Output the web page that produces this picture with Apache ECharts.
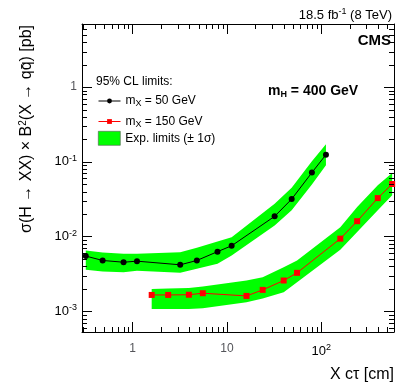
<!DOCTYPE html>
<html>
<head>
<meta charset="utf-8">
<script src="https://cdn.jsdelivr.net/npm/echarts@6/dist/echarts.min.js"></script>
<style>
  html, body { margin: 0; padding: 0; background: #fff; }
  #chart { width: 407px; height: 391px; }
</style>
</head>
<body>
<div id="chart"></div>
<script>
// axis ranges (log10 scales)
const xRange = [0.29, 590];
const yRange = [5.3e-4, 7];
// minor tick mantissas, as in ROOT log axes
const minorMant = [2, 3, 4, 5, 6, 7, 8, 9];

// m_X = 50 GeV : observed limit and expected +-1 sigma band
const blackX = [0.318, 0.48, 0.80, 1.11, 3.19, 4.79, 7.93, 11.2, 32.0, 48.5, 79.5, 112];
const blackY = [5.5e-3, 4.8e-3, 4.55e-3, 4.7e-3, 4.2e-3, 4.8e-3, 6.3e-3, 7.55e-3, 0.0187, 0.0318, 0.072, 0.125];
const blackUp = [6.53e-3, 6.14e-3, 5.9e-3, 5.9e-3, 6.2e-3, 7.1e-3, 8.62e-3, 9.85e-3, 0.0276, 0.045, 0.102, 0.172];
const blackLo = [3.6e-3, 3.42e-3, 3.34e-3, 3.49e-3, 3.28e-3, 3.71e-3, 4.33e-3, 5.6e-3, 0.0141, 0.0225, 0.05, 0.09];

// m_X = 150 GeV
const redX = [1.59, 2.38, 3.94, 5.54, 16.1, 23.9, 39.9, 55.3, 159, 240, 397, 564];
const redY = [1.66e-3, 1.66e-3, 1.67e-3, 1.75e-3, 1.61e-3, 1.94e-3, 2.59e-3, 3.28e-3, 9.4e-3, 0.0161, 0.0328, 0.0506];
const redUp = [2.0e-3, 2.02e-3, 2.05e-3, 2.15e-3, 2.59e-3, 2.86e-3, 3.9e-3, 4.8e-3, 0.0134, 0.0249, 0.0486, 0.071];
const redLo = [1.08e-3, 1.08e-3, 1.08e-3, 1.1e-3, 1.33e-3, 1.49e-3, 1.8e-3, 2.45e-3, 6.67e-3, 0.0115, 0.0225, 0.0357];

(function () {
  const font = '"Liberation Sans", Arial, Helvetica, sans-serif';
  let myChart = echarts.init(document.getElementById('chart'));

  // minor tick values inside a range
  function minorTicks(range) {
    let out = [];
    for (let d = Math.floor(Math.log10(range[0])); d <= Math.ceil(Math.log10(range[1])); d++) {
      minorMant.forEach(function (m) {
        let v = m * Math.pow(10, d);
        if (v > range[0] && v < range[1]) out.push(v);
      });
    }
    return out;
  }

  // only powers of ten get a label
  function logLabel(v) {
    let l = Math.log10(v);
    let e = Math.round(l);
    if (Math.abs(l - e) > 1e-6) return '';
    if (e === 0) return '1';
    if (e === 1) return '10';
    return '{b|10}{s|' + e + '}';
  }
  const labelRich = {
    b: { fontSize: 13, fontFamily: font, color: '#000' },
    s: { fontSize: 9, fontFamily: font, color: '#000', padding: [0, 0, 7, 0] }
  };

  function bandSeries(xs, up, lo) {
    return {
      name: 'exp',
      type: 'custom',
      coordinateSystem: 'cartesian2d',
      silent: true,
      z: 1,
      itemStyle: { color: '#00ff00' },
      data: [[xs[0], up[0]]],
      renderItem: function (params, api) {
        let pts = [];
        xs.forEach(function (x, i) { pts.push(api.coord([x, up[i]])); });
        for (let i = xs.length - 1; i >= 0; i--) pts.push(api.coord([xs[i], lo[i]]));
        return { type: 'polygon', shape: { points: pts }, style: { fill: '#00ff00' } };
      }
    };
  }

  // short minor ticks on all four sides of the frame
  const xMinorSeries = {
    type: 'custom',
    coordinateSystem: 'cartesian2d',
    silent: true,
    z: 10,
    data: minorTicks(xRange).map(function (v) { return [v, yRange[0]]; }),
    renderItem: function (params, api) {
      let b = api.coord([api.value(0), yRange[0]]);
      let t = api.coord([api.value(0), yRange[1]]);
      let x = Math.round(b[0]) + 0.5;
      return {
        type: 'group', children: [
          { type: 'line', shape: { x1: x, y1: b[1], x2: x, y2: b[1] - 5 }, style: { stroke: '#000', lineWidth: 1 } },
          { type: 'line', shape: { x1: x, y1: t[1], x2: x, y2: t[1] + 5 }, style: { stroke: '#000', lineWidth: 1 } }
        ]
      };
    }
  };
  const yMinorSeries = {
    type: 'custom',
    coordinateSystem: 'cartesian2d',
    silent: true,
    z: 10,
    data: minorTicks(yRange).map(function (v) { return [xRange[0], v]; }),
    renderItem: function (params, api) {
      let l = api.coord([xRange[0], api.value(1)]);
      let r = api.coord([xRange[1], api.value(1)]);
      let y = Math.round(l[1]) + 0.5;
      return {
        type: 'group', children: [
          { type: 'line', shape: { x1: l[0], y1: y, x2: l[0] + 5, y2: y }, style: { stroke: '#000', lineWidth: 1 } },
          { type: 'line', shape: { x1: r[0], y1: y, x2: r[0] - 5, y2: y }, style: { stroke: '#000', lineWidth: 1 } }
        ]
      };
    }
  };

  function logAxis(range, pos, showLabel) {
    return {
      type: 'log',
      logBase: 10,
      min: range[0],
      max: range[1],
      position: pos,
      axisLine: { show: true, lineStyle: { color: '#000', width: 1 } },
      axisTick: { show: true, inside: true, length: 10, lineStyle: { color: '#000' } },
      splitLine: { show: false },
      minorTick: { show: false },
      axisLabel: {
        show: showLabel,
        formatter: logLabel,
        rich: labelRich,
        margin: (pos === 'bottom') ? 11 : 5,
        showMinLabel: false,
        showMaxLabel: false
      }
    };
  }

  const legendText = {
    mX50: '{n|m}{sub|X}{n| = 50 GeV}',
    mX150: '{n|m}{sub|X}{n| = 150 GeV}',
    exp: '{n|Exp. limits (\u00b1 1\u03c3)}'
  };
  const legendRich = {
    n: { fontSize: 12, fontFamily: font, color: '#000' },
    sub: { fontSize: 9, fontFamily: font, color: '#000', padding: [6, 0, 0, 0] }
  };

  let option = {
    animation: false,
    backgroundColor: '#fff',
    textStyle: { fontFamily: font },
    grid: { left: 82, top: 24, right: 13, bottom: 59, containLabel: false },
    xAxis: [logAxis(xRange, 'bottom', true), logAxis(xRange, 'top', false)],
    yAxis: [logAxis(yRange, 'left', true), logAxis(yRange, 'right', false)],
    // two legends: small markers for the lines, a bigger box for the band
    legend: [
      {
        orient: 'vertical',
        left: 98,
        top: 95,
        padding: 0,
        itemWidth: 22,
        itemHeight: 6,
        itemGap: 7,
        selectedMode: false,
        lineStyle: { width: 1 },
        data: ['mX50', 'mX150'],
        formatter: function (name) { return legendText[name]; },
        textStyle: { rich: legendRich }
      },
      {
        orient: 'vertical',
        left: 98,
        top: 131,
        padding: 0,
        itemWidth: 22,
        itemHeight: 14,
        selectedMode: false,
        itemStyle: { borderColor: '#555', borderWidth: 0.6 },
        data: [{ name: 'exp', icon: 'rect' }],
        formatter: function (name) { return legendText[name]; },
        textStyle: { rich: legendRich }
      }
    ],
    graphic: [
      {
        type: 'text', x: 392, y: 15,
        style: {
          text: '{a|18.5 fb}{s|-1}{a| (8 TeV)}', align: 'right', verticalAlign: 'middle',
          rich: {
            a: { fontSize: 13, fontFamily: font, fill: '#000' },
            s: { fontSize: 9, fontFamily: font, fill: '#000', padding: [0, 0, 7, 0] }
          }
        }
      },
      {
        type: 'text', x: 391, y: 41,
        style: { text: 'CMS', align: 'right', verticalAlign: 'middle', fontSize: 15, fontWeight: 'bold', fontFamily: font, fill: '#000' }
      },
      {
        type: 'text', x: 268, y: 91,
        style: {
          text: '{b|m}{s|H}{b| = 400 GeV}', align: 'left', verticalAlign: 'middle',
          rich: {
            b: { fontSize: 14, fontWeight: 'bold', fontFamily: font, fill: '#000' },
            s: { fontSize: 9, fontWeight: 'bold', fontFamily: font, fill: '#000', padding: [7, 0, 0, 0] }
          }
        }
      },
      {
        type: 'text', x: 96, y: 82,
        style: { text: '95% CL limits:', align: 'left', verticalAlign: 'middle', fontSize: 12, fontFamily: font, fill: '#000' }
      },
      {
        type: 'text', x: 394, y: 375,
        style: { text: 'X c\u03c4 [cm]', align: 'right', verticalAlign: 'middle', fontSize: 16, fontFamily: font, fill: '#000' }
      },
      {
        type: 'text', x: 27, y: 25, rotation: Math.PI / 2,
        style: {
          text: '{a|\u03c3(H \u2192 XX) \u00d7 B}{s|2}{a|(X \u2192 qq\u0304) [pb]}',
          align: 'right', verticalAlign: 'middle',
          rich: {
            a: { fontSize: 16, fontFamily: font, fill: '#000' },
            s: { fontSize: 10, fontFamily: font, fill: '#000', padding: [0, 0, 8, 0] }
          }
        }
      }
    ],
    series: [
      bandSeries(blackX, blackUp, blackLo),
      bandSeries(redX, redUp, redLo),
      {
        name: 'mX50',
        type: 'line',
        z: 5,
        symbol: 'circle',
        symbolSize: 6,
        itemStyle: { color: '#000' },
        lineStyle: { color: '#000', width: 1 },
        data: blackX.map(function (x, i) { return [x, blackY[i]]; })
      },
      {
        name: 'mX150',
        type: 'line',
        z: 5,
        symbol: 'rect',
        symbolSize: 6,
        itemStyle: { color: '#ff0000' },
        lineStyle: { color: '#ff0000', width: 1 },
        data: redX.map(function (x, i) { return [x, redY[i]]; })
      },
      xMinorSeries,
      yMinorSeries
    ]
  };

  myChart.setOption(option);

  window.addEventListener('resize', function () {
    myChart.resize();
  });
})();
</script>
</body>
</html>
